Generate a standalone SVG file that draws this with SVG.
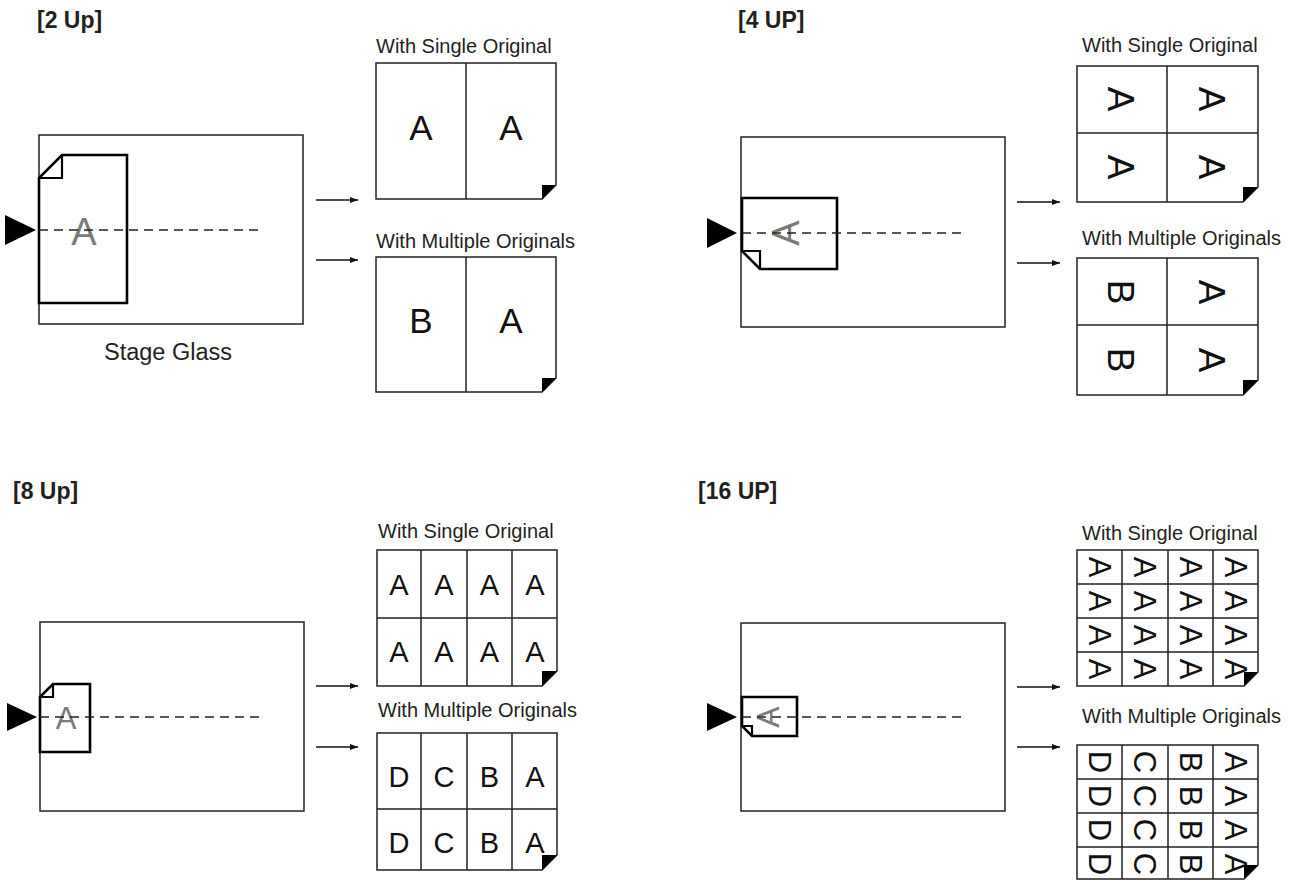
<svg xmlns="http://www.w3.org/2000/svg" width="1299" height="880" viewBox="0 0 1299 880">
  <style>
    .frame{fill:#fff;stroke:#222;stroke-width:1.5}
    .doc{fill:#fff;stroke:#000;stroke-width:2.6}
    .fold{fill:none;stroke:#000;stroke-width:2.2}
    .scan{stroke:#222;stroke-width:1.5;stroke-dasharray:9 6;fill:none}
    .ptr{fill:#000}
    .ghost{font-family:"Liberation Sans",Arial,Helvetica,sans-serif;fill:#7a7a7a;text-anchor:middle}
    .title{font-family:"Liberation Sans",Arial,Helvetica,sans-serif;font-weight:bold;font-size:23px;fill:#231f20}
    .cap{font-family:"Liberation Sans",Arial,Helvetica,sans-serif;font-size:20px;fill:#231f20}
    .grid{fill:#fff;stroke:#222;stroke-width:1.5}
    .div{stroke:#222;stroke-width:1.5;fill:none}
    .ear{fill:#000}
    .ltr{font-family:"Liberation Sans",Arial,Helvetica,sans-serif;fill:#111;text-anchor:middle}
    .conn{stroke:#111;stroke-width:1.4;fill:none;marker-end:url(#ah)}
  </style>
  <defs>
    <marker id="ah" viewBox="0 0 8 6" markerWidth="8" markerHeight="6" refX="8" refY="3" orient="auto" markerUnits="userSpaceOnUse">
      <path d="M0,0 L8,3 L0,6 Z" fill="#111"/>
    </marker>
  </defs>

  <!-- ===== 2 Up ===== -->
  <g id="up2-title"><text class="title" x="37" y="28">[2 Up]</text></g>
  <g id="up2-stage">
    <rect class="frame" x="39" y="135" width="264" height="189"/>
    <path class="doc" d="M39,178 L62,155 H127 V303 H39 Z"/>
    <path class="fold" d="M62,155 V178 H39"/>
    <text class="ghost" x="84" y="245" font-size="38">A</text>
    <line class="scan" x1="39" y1="230" x2="262" y2="230"/>
    <path class="ptr" d="M5,215 L36,230 L5,245 Z"/>
    <text class="cap" x="168" y="360" text-anchor="middle" style="font-size:23.5px">Stage Glass</text>
  </g>
  <g id="up2-single">
    <text class="cap" x="376" y="53">With Single Original</text>
    <path class="grid" d="M376,63 H556 V185 L542,199 H376 Z"/>
    <line class="div" x1="466" y1="63" x2="466" y2="199"/>
    <path class="ear" d="M542,185 H556 L542,199 Z"/>
    <text class="ltr" x="421" y="140" font-size="35">A</text>
    <text class="ltr" x="511" y="140" font-size="35">A</text>
  </g>
  <g id="up2-multi">
    <text class="cap" x="376" y="248">With Multiple Originals</text>
    <path class="grid" d="M376,257 H556 V378 L542,392 H376 Z"/>
    <line class="div" x1="466" y1="257" x2="466" y2="392"/>
    <path class="ear" d="M542,378 H556 L542,392 Z"/>
    <text class="ltr" x="421" y="333" font-size="35">B</text>
    <text class="ltr" x="511" y="333" font-size="35">A</text>
  </g>

  <!-- ===== 4 UP ===== -->
  <g id="up4-title"><text class="title" x="738" y="28">[4 UP]</text></g>
  <g id="up4-stage">
    <rect class="frame" x="741" y="137" width="264" height="190"/>
    <path class="doc" d="M742,198 H837 V269 H760 L742,251 Z"/>
    <path class="fold" d="M742,251 H760 V269"/>
    <text class="ghost" x="785" y="246.5" font-size="38" transform="rotate(-90 785 233)">A</text>
    <line class="scan" x1="742" y1="233" x2="962" y2="233"/>
    <path class="ptr" d="M707,218 L737,233 L707,248 Z"/>
  </g>
  <g id="up4-single">
    <text class="cap" x="1082" y="52">With Single Original</text>
    <path class="grid" d="M1077,66 H1258 V187 L1243,202 H1077 Z"/>
    <path class="div" d="M1167,66 V202 M1077,133 H1258"/>
    <path class="ear" d="M1243,187 H1258 L1243,202 Z"/>
    <g class="ltr" font-size="37">
      <text x="1121" y="112" transform="rotate(90 1121 99)">A</text>
      <text x="1212" y="112" transform="rotate(90 1212 99)">A</text>
      <text x="1121" y="180" transform="rotate(90 1121 167)">A</text>
      <text x="1212" y="180" transform="rotate(90 1212 167)">A</text>
    </g>
  </g>
  <g id="up4-multi">
    <text class="cap" x="1082" y="245">With Multiple Originals</text>
    <path class="grid" d="M1077,258 H1258 V380 L1243,395 H1077 Z"/>
    <path class="div" d="M1167,258 V395 M1077,325 H1258"/>
    <path class="ear" d="M1243,380 H1258 L1243,395 Z"/>
    <g class="ltr" font-size="37">
      <text x="1121" y="305" transform="rotate(90 1121 292)">B</text>
      <text x="1212" y="305" transform="rotate(90 1212 292)">A</text>
      <text x="1121" y="373" transform="rotate(90 1121 360)">B</text>
      <text x="1212" y="373" transform="rotate(90 1212 360)">A</text>
    </g>
  </g>

  <!-- ===== 8 Up ===== -->
  <g id="up8-title"><text class="title" x="13" y="499">[8 Up]</text></g>
  <g id="up8-stage">
    <rect class="frame" x="40" y="622" width="264" height="189"/>
    <path class="doc" d="M40,697 L53,684 H90 V752 H40 Z"/>
    <path class="fold" d="M53,684 V697 H40"/>
    <text class="ghost" x="66" y="729" font-size="31">A</text>
    <line class="scan" x1="40" y1="717" x2="262" y2="717"/>
    <path class="ptr" d="M7,703 L37,717 L7,731 Z"/>
  </g>
  <g id="up8-single">
    <text class="cap" x="378" y="538">With Single Original</text>
    <path class="grid" d="M377,550 H557 V671 L542,686 H377 Z"/>
    <path class="div" d="M421,550 V686 M467,550 V686 M512,550 V686 M377,618 H557"/>
    <path class="ear" d="M542,671 H557 L542,686 Z"/>
    <g class="ltr" font-size="29">
      <text x="399" y="595">A</text><text x="444" y="595">A</text><text x="489.5" y="595">A</text><text x="535" y="595">A</text>
      <text x="399" y="662">A</text><text x="444" y="662">A</text><text x="489.5" y="662">A</text><text x="535" y="662">A</text>
    </g>
  </g>
  <g id="up8-multi">
    <text class="cap" x="378" y="717">With Multiple Originals</text>
    <path class="grid" d="M377,733 H557 V855 L542,870 H377 Z"/>
    <path class="div" d="M421,733 V870 M467,733 V870 M512,733 V870 M377,809 H557"/>
    <path class="ear" d="M542,855 H557 L542,870 Z"/>
    <g class="ltr" font-size="29">
      <text x="399" y="787">D</text><text x="444" y="787">C</text><text x="489.5" y="787">B</text><text x="535" y="787">A</text>
      <text x="399" y="853">D</text><text x="444" y="853">C</text><text x="489.5" y="853">B</text><text x="535" y="853">A</text>
    </g>
  </g>

  <!-- ===== 16 UP ===== -->
  <g id="up16-title"><text class="title" x="698" y="499">[16 UP]</text></g>
  <g id="up16-stage">
    <rect class="frame" x="741" y="623" width="264" height="188"/>
    <path class="doc" d="M742,697 H797 V736 H752 L742,726 Z"/>
    <path class="fold" d="M742,726 H752 V736"/>
    <text class="ghost" x="767" y="728.5" font-size="32" transform="rotate(-90 767 717)">A</text>
    <line class="scan" x1="742" y1="717" x2="962" y2="717"/>
    <path class="ptr" d="M707,703 L737,717 L707,731 Z"/>
  </g>
  <g id="up16-single">
    <text class="cap" x="1082" y="540">With Single Original</text>
    <path class="grid" d="M1077,550 H1258 V672 L1244,686 H1077 Z"/>
    <path class="div" d="M1122,550 V686 M1168,550 V686 M1213,550 V686 M1077,584 H1258 M1077,618 H1258 M1077,652 H1258"/>
    <g class="ltr" font-size="31">
      <text x="1100" y="578" transform="rotate(90 1100 567)">A</text>
      <text x="1145" y="578" transform="rotate(90 1145 567)">A</text>
      <text x="1190.5" y="578" transform="rotate(90 1190.5 567)">A</text>
      <text x="1236" y="578" transform="rotate(90 1236 567)">A</text>
      <text x="1100" y="612" transform="rotate(90 1100 601)">A</text>
      <text x="1145" y="612" transform="rotate(90 1145 601)">A</text>
      <text x="1190.5" y="612" transform="rotate(90 1190.5 601)">A</text>
      <text x="1236" y="612" transform="rotate(90 1236 601)">A</text>
      <text x="1100" y="646" transform="rotate(90 1100 635)">A</text>
      <text x="1145" y="646" transform="rotate(90 1145 635)">A</text>
      <text x="1190.5" y="646" transform="rotate(90 1190.5 635)">A</text>
      <text x="1236" y="646" transform="rotate(90 1236 635)">A</text>
      <text x="1100" y="680" transform="rotate(90 1100 669)">A</text>
      <text x="1145" y="680" transform="rotate(90 1145 669)">A</text>
      <text x="1190.5" y="680" transform="rotate(90 1190.5 669)">A</text>
      <text x="1236" y="680" transform="rotate(90 1236 669)">A</text>
    </g>
    <path class="ear" d="M1244,672 H1258 L1244,686 Z"/>
  </g>
  <g id="up16-multi">
    <text class="cap" x="1082" y="723">With Multiple Originals</text>
    <path class="grid" d="M1077,745 H1258 V865 L1244,879 H1077 Z"/>
    <path class="div" d="M1122,745 V879 M1168,745 V879 M1213,745 V879 M1077,779 H1258 M1077,813 H1258 M1077,847 H1258"/>
    <g class="ltr" font-size="31">
      <text x="1100" y="773" transform="rotate(90 1100 762)">D</text>
      <text x="1145" y="773" transform="rotate(90 1145 762)">C</text>
      <text x="1190.5" y="773" transform="rotate(90 1190.5 762)">B</text>
      <text x="1236" y="773" transform="rotate(90 1236 762)">A</text>
      <text x="1100" y="807" transform="rotate(90 1100 796)">D</text>
      <text x="1145" y="807" transform="rotate(90 1145 796)">C</text>
      <text x="1190.5" y="807" transform="rotate(90 1190.5 796)">B</text>
      <text x="1236" y="807" transform="rotate(90 1236 796)">A</text>
      <text x="1100" y="841" transform="rotate(90 1100 830)">D</text>
      <text x="1145" y="841" transform="rotate(90 1145 830)">C</text>
      <text x="1190.5" y="841" transform="rotate(90 1190.5 830)">B</text>
      <text x="1236" y="841" transform="rotate(90 1236 830)">A</text>
      <text x="1100" y="875" transform="rotate(90 1100 864)">D</text>
      <text x="1145" y="875" transform="rotate(90 1145 864)">C</text>
      <text x="1190.5" y="875" transform="rotate(90 1190.5 864)">B</text>
      <text x="1236" y="875" transform="rotate(90 1236 864)">A</text>
    </g>
    <path class="ear" d="M1244,865 H1258 L1244,879 Z"/>
  </g>

  <!-- ===== connectors ===== -->
  <g id="connectors">
    <line class="conn" x1="316" y1="200" x2="358" y2="200"/>
    <line class="conn" x1="316" y1="260" x2="358" y2="260"/>
    <line class="conn" x1="1017" y1="202" x2="1060" y2="202"/>
    <line class="conn" x1="1017" y1="263" x2="1060" y2="263"/>
    <line class="conn" x1="316" y1="686" x2="358" y2="686"/>
    <line class="conn" x1="316" y1="747" x2="358" y2="747"/>
    <line class="conn" x1="1017" y1="687" x2="1060" y2="687"/>
    <line class="conn" x1="1017" y1="747" x2="1060" y2="747"/>
  </g>
</svg>
